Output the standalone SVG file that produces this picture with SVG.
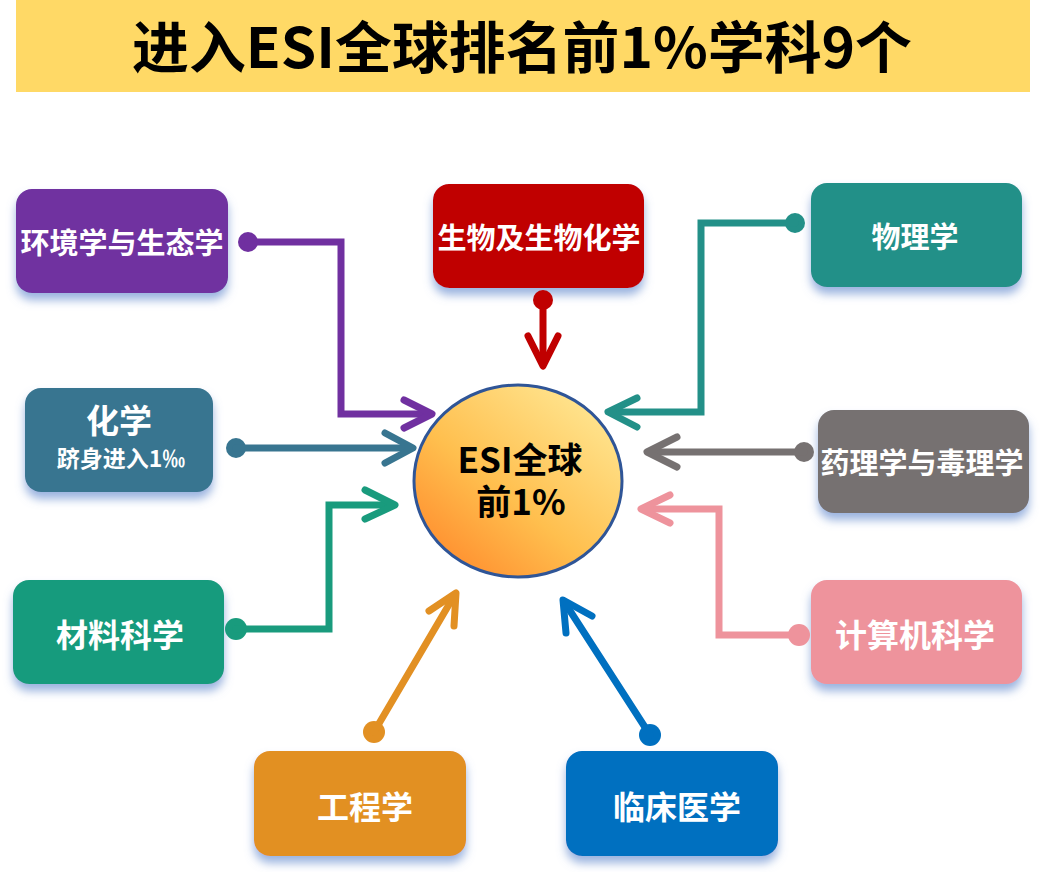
<svg xmlns="http://www.w3.org/2000/svg" width="1040" height="872" viewBox="0 0 1040 872">
<defs>
<filter id="glow" x="-20%" y="-20%" width="140%" height="160%">
<feDropShadow dx="0" dy="7" stdDeviation="5" flood-color="#8FAADC" flood-opacity="0.9"/>
</filter>
<linearGradient id="ball" x1="0.85" y1="0.1" x2="0.1" y2="0.95">
<stop offset="0" stop-color="#FFE48E"/>
<stop offset="0.55" stop-color="#FFBF4E"/>
<stop offset="1" stop-color="#FF8A2C"/>
</linearGradient>
<style>
.t{font-family:"Noto Sans CJK SC","Microsoft YaHei",sans-serif;font-weight:bold;fill:#fff;text-anchor:middle}
.c{fill:none;stroke-width:7;stroke-linecap:round;stroke-linejoin:miter}
.a{fill:none;stroke-width:7;stroke-linecap:round;stroke-linejoin:round}
.box{filter:url(#glow)}
</style>
</defs>
<rect width="1040" height="872" fill="#fff"/>
<g id="title">
<rect x="16" y="0" width="1014" height="92" fill="#FFD966"/>
<text x="522" y="68" font-family="'Noto Sans CJK SC',sans-serif" font-weight="bold" font-size="56" text-anchor="middle" fill="#000" textLength="780" lengthAdjust="spacingAndGlyphs">进入ESI全球排名前1%学科9个</text>
</g>
<g id="center">
<ellipse cx="518" cy="481" rx="104" ry="96" fill="url(#ball)" stroke="#2F5597" stroke-width="3"/>
<text x="520" y="473" font-family="'Noto Sans CJK SC',sans-serif" font-weight="bold" font-size="35" text-anchor="middle" fill="#000">ESI全球</text>
<text x="521" y="515" font-family="'Noto Sans CJK SC',sans-serif" font-weight="bold" font-size="35" text-anchor="middle" fill="#000">前1%</text>
</g>
<g id="n-env"><rect class="box" x="16" y="189" width="212" height="104" rx="16" fill="#7030A0"/><text class="t" x="122" y="254" font-size="29">环境学与生态学</text></g>
<g id="n-chem"><rect class="box" x="25" y="388" width="188" height="104" rx="16" fill="#387590"/><text class="t" x="119" y="433" font-size="33">化学</text><text class="t" x="121" y="467" font-size="23">跻身进入1‰</text></g>
<g id="n-bio"><rect class="box" x="433" y="184" width="211" height="104" rx="16" fill="#C00000"/><text class="t" x="539" y="249" font-size="29">生物及生物化学</text></g>
<g id="n-phys"><rect class="box" x="811" y="183" width="211" height="104" rx="16" fill="#239088"/><text class="t" x="915" y="248" font-size="29">物理学</text></g>
<g id="n-pharm"><rect class="box" x="818" y="410" width="211" height="103" rx="16" fill="#767171"/><text class="t" x="922" y="474" font-size="29">药理学与毒理学</text></g>
<g id="n-mat"><rect class="box" x="13" y="580" width="211" height="104" rx="16" fill="#199B7D"/><text class="t" x="120" y="647" font-size="32">材料科学</text></g>
<g id="n-eng"><rect class="box" x="254" y="751" width="212" height="105" rx="16" fill="#E29023"/><text class="t" x="365" y="819" font-size="32">工程学</text></g>
<g id="n-clin"><rect class="box" x="566" y="751" width="212" height="105" rx="16" fill="#0070C0"/><text class="t" x="677" y="819" font-size="32">临床医学</text></g>
<g id="n-cs"><rect class="box" x="811" y="580" width="211" height="104" rx="16" fill="#EE939C"/><text class="t" x="915" y="647" font-size="32">计算机科学</text></g>
<g id="connectors">
<g stroke="#7030A0" fill="#7030A0"><circle cx="248" cy="242" r="10" stroke="none"/><path class="c" d="M248 242 H341 V414 H428"/><path class="a" d="M404 400 L432 414 L404 428"/></g>
<g stroke="#387590" fill="#387590"><circle cx="236" cy="448" r="10" stroke="none"/><path class="c" d="M236 448 H410"/><path class="a" d="M385 433 L413 448 L385 463"/></g>
<g stroke="#C00000" fill="#C00000"><circle cx="543" cy="300" r="10" stroke="none"/><path class="c" d="M543 300 V363"/><path class="a" d="M528 336 L543 366 L558 336"/></g>
<g stroke="#239088" fill="#239088"><circle cx="795" cy="223" r="10" stroke="none"/><path class="c" d="M795 223 H701 V412 H612"/><path class="a" d="M637 398 L608 412 L637 427"/></g>
<g stroke="#767171" fill="#767171"><circle cx="804" cy="452" r="10" stroke="none"/><path class="c" d="M804 452 H651"/><path class="a" d="M677 437 L647 452 L677 467"/></g>
<g stroke="#199B7D" fill="#199B7D"><circle cx="236" cy="629" r="11" stroke="none"/><path class="c" d="M236 629 H329 V505 H392"/><path class="a" d="M365 490 L395 505 L365 519"/></g>
<g stroke="#E29023" fill="#E29023"><circle cx="374" cy="732" r="11" stroke="none"/><path class="c" d="M374 732 L454 596"/><path class="a" d="M429 611 L456 593 L454 626"/></g>
<g stroke="#0070C0" fill="#0070C0"><circle cx="650" cy="735" r="11" stroke="none"/><path class="c" d="M650 735 L565 603"/><path class="a" d="M566 633 L563 600 L592 616"/></g>
<g stroke="#EE939C" fill="#EE939C"><circle cx="799" cy="635" r="11" stroke="none"/><path class="c" d="M799 635 H719 V509 H645"/><path class="a" d="M670 495 L641 509 L670 523"/></g>
</g>
</svg>
